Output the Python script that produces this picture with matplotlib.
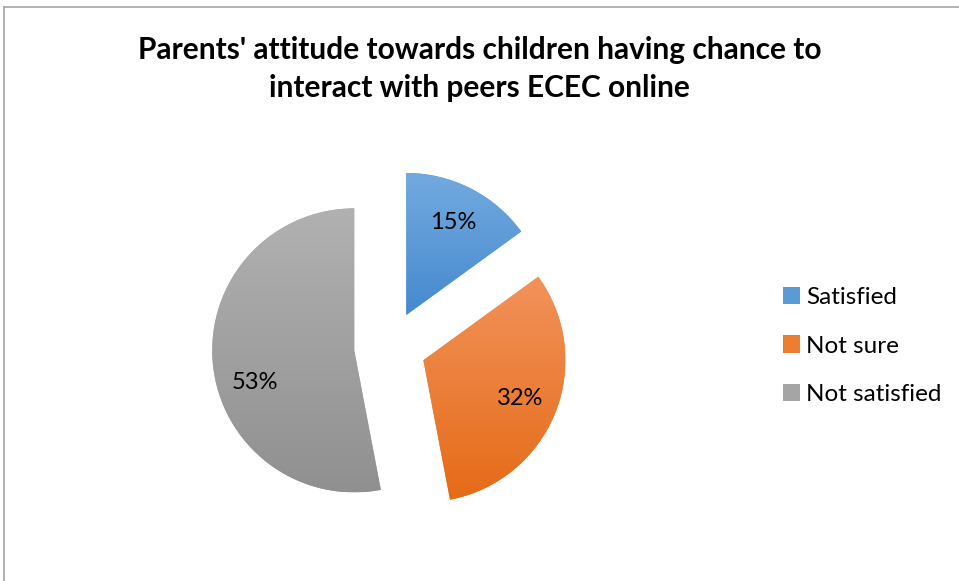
import matplotlib.pyplot as plt
import numpy as np
from matplotlib.colors import LinearSegmentedColormap
from matplotlib.patches import Patch
from matplotlib.lines import Line2D

plt.rcParams['font.family'] = ['Lato', 'DejaVu Sans']

# Survey shares (percent)
categories = ['Satisfied', 'Not sure', 'Not satisfied']
shares = [15, 32, 53]

# top / bottom shade of each slice fill
top_colors = ['#72aadf', '#f2925a', '#b1b1b1']
bottom_colors = ['#4689cf', '#e56b17', '#909090']
legend_colors = ['#5b9bd5', '#ed7d31', '#a5a5a5']

W, H = 959, 581
fig = plt.figure(figsize=(W / 100, H / 100), dpi=100)
ax = fig.add_axes([0, 0, 1, 1])

# one data unit = pie radius in pixels
r_px = 142
cx, cy = 390, 347

wedges, texts, autotexts = ax.pie(
    shares, startangle=90, counterclock=False, radius=1,
    explode=[0.253] * 3, autopct='%1.0f%%', pctdistance=0.73,
    colors=legend_colors, wedgeprops=dict(linewidth=0),
    textprops=dict(fontsize=17, color='#000000'))

# vertical gradient inside every slice
for w, c0, c1 in zip(wedges, top_colors, bottom_colors):
    ext = w.get_path().transformed(w.get_patch_transform()).get_extents()
    cmap = LinearSegmentedColormap.from_list('g', [c1, c0])
    grad = np.linspace(0, 1, 256).reshape(-1, 1)
    im = ax.imshow(grad, cmap=cmap, origin='lower', aspect='auto',
                   extent=[ext.x0, ext.x1, ext.y0, ext.y1], zorder=2)
    im.set_clip_path(w)
for t in autotexts:
    t.set_zorder(5)

# largest slice label sits a bit lower
x, y = autotexts[2].get_position()
autotexts[2].set_position((x + 0.03, y - 0.155))

ax.set_xlim(-cx / r_px, (W - cx) / r_px)
ax.set_ylim(-(H - cy) / r_px, cy / r_px)
ax.set_aspect('equal')
ax.axis('off')

fig.text(0.5, 1 - 69 / H, "Parents' attitude towards children having chance to\ninteract with peers ECEC online",
         ha='center', va='center', fontsize=21.5, fontweight='bold', linespacing=1.4)

handles = [Patch(facecolor=c, edgecolor='none') for c in legend_colors]
fig.legend(handles, categories, loc='center left', bbox_to_anchor=(761 / W, 1 - 346 / H),
           frameon=False, fontsize=17.5, handlelength=0.7, handleheight=0.7,
           handletextpad=0.25, labelspacing=1.15)

# chart frame
fig.add_artist(Line2D([4 / W, 4 / W], [0, 1 - 7 / H], color='#a6a6a6', lw=1.2))
fig.add_artist(Line2D([4 / W, 1], [1 - 7 / H, 1 - 7 / H], color='#a6a6a6', lw=1.2))

fig.savefig('out.png', dpi=100)
